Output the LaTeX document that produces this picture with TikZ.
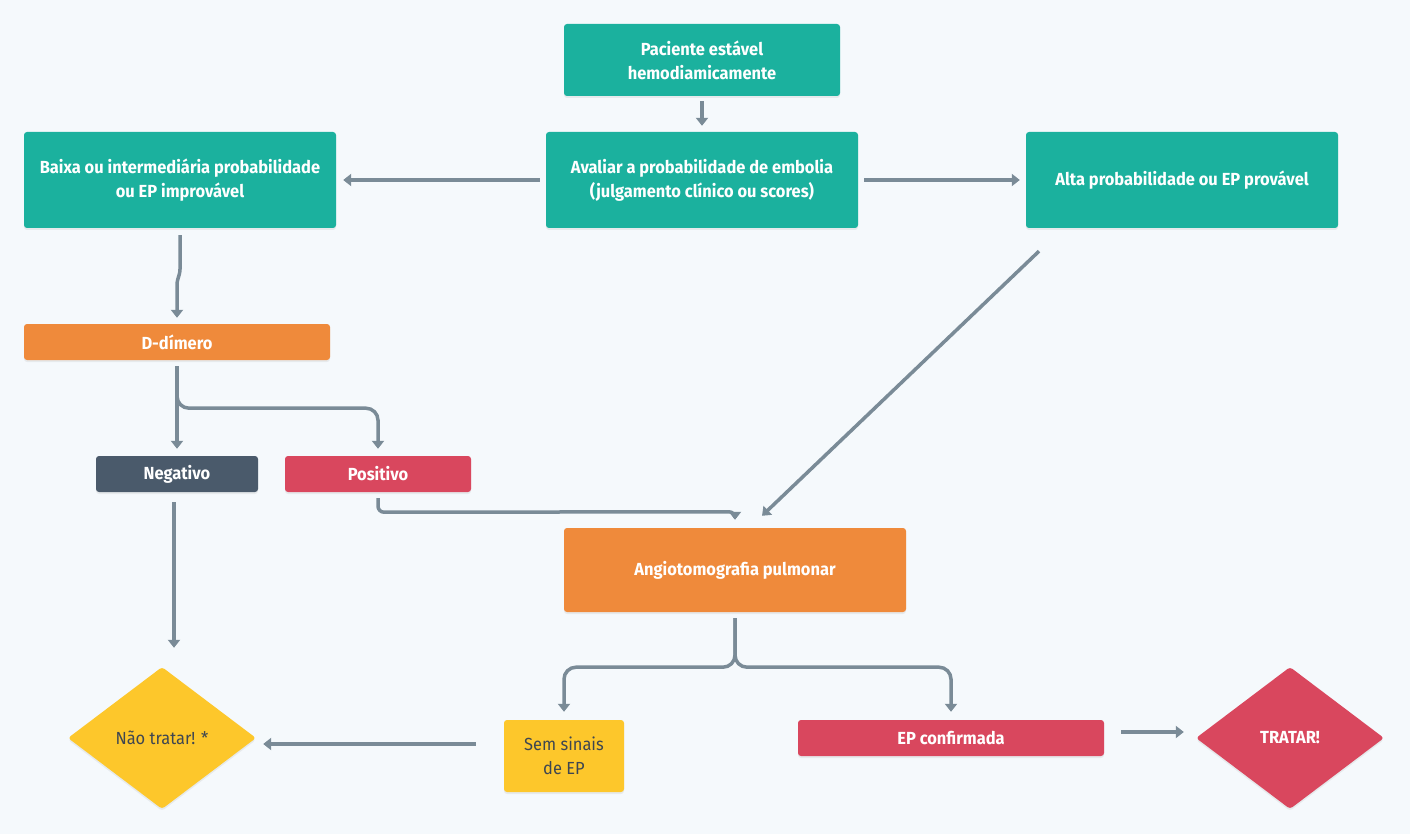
\documentclass[tikz,border=0pt]{standalone}
\usepackage{fontspec}
\setmainfont{Fira Sans}[FakeStretch=0.94]
\usetikzlibrary{calc,shapes.geometric,arrows.meta,shadows}
\definecolor{fundo}{HTML}{F5F9FC}
\definecolor{verde}{HTML}{1BB19E}
\definecolor{laranja}{HTML}{EF8A3B}
\definecolor{vermelho}{HTML}{D9475E}
\definecolor{ardosia}{HTML}{4A5A6B}
\definecolor{amarelo}{HTML}{FDC72B}
\definecolor{cinza}{HTML}{7A8B97}
\definecolor{escuro}{HTML}{3E4651}
\tikzset{
  caixa/.style={rectangle, rounded corners=3pt, inner sep=0pt, align=center,
    text=white, font=\bfseries\fontsize{17.5}{24}\selectfont,
    drop shadow={opacity=0.12, shadow xshift=0pt, shadow yshift=-2pt}},
  losango/.style={diamond, rounded corners=3pt, inner sep=0pt,
    minimum width=188pt, minimum height=142pt,
    drop shadow={opacity=0.12, shadow xshift=0pt, shadow yshift=-2pt}},
  liga/.style={draw=cinza, line width=3.5pt, rounded corners=12pt,
    -{Triangle[length=8pt,width=12pt]}}
}

\begin{document}
\begin{tikzpicture}[x=1pt, y=-1pt]
        \fill[fundo] (0,0) rectangle (1410,834);
        % top
        \node[caixa, fill=verde, minimum width=276pt, minimum height=72pt] (inicio) at (702,60) {Paciente estável\\hemodiamicamente};
        \node[caixa, fill=verde, minimum width=312pt, minimum height=96pt] (avaliar) at (702,180) {Avaliar a probabilidade de embolia\\(julgamento clínico ou scores)};
        \node[caixa, fill=verde, minimum width=312pt, minimum height=96pt] (baixa) at (180,180) {Baixa ou intermediária probabilidade\\ou EP improvável};
        \node[caixa, fill=verde, minimum width=312pt, minimum height=96pt] (alta) at (1182,180) {Alta probabilidade ou EP provável};
        % d-dimer
        \node[caixa, fill=laranja, minimum width=306pt, minimum height=36pt] (ddimero) at (177,342) {D-dímero};
        \node[caixa, fill=ardosia, minimum width=162pt, minimum height=36pt] (negativo) at (177,474) {Negativo};
        \node[caixa, fill=vermelho, minimum width=186pt, minimum height=36pt] (positivo) at (378,474) {Positivo};
        % angio
        \node[caixa, fill=laranja, minimum width=342pt, minimum height=84pt] (angio) at (735,570) {Angiotomografia pulmonar};
        \node[caixa, fill=amarelo, text=escuro, font=\fontsize{17.5}{24}\selectfont, minimum width=120pt, minimum height=72pt] (semsinais) at (564,756) {Sem sinais\\de EP};
        \node[caixa, fill=vermelho, minimum width=306pt, minimum height=36pt] (confirmada) at (951,738) {EP confirmada};
        % end
        \node[losango, fill=amarelo, text=escuro, font=\fontsize{17.5}{24}\selectfont] (naotratar) at (162,738) {Não tratar! *};
        \node[losango, fill=vermelho, text=white, font=\bfseries\fontsize{17.5}{24}\selectfont] (tratar) at (1290,738) {TRATAR!};
        % arrows
        \draw[liga] ($(inicio.south)+(0,5)$) -- ($(avaliar.north)+(0,-6)$);
        \draw[liga] ($(avaliar.west)+(-6,0)$) -- ($(baixa.east)+(7,0)$);
        \draw[liga] ($(avaliar.east)+(6,0)$) -- ($(alta.west)+(-6,0)$);
        \draw[liga, rounded corners=3pt] ($(baixa.south)+(0,7)$) -- ($(baixa.south)+(0,44)$) -- ($(ddimero.north)+(0,-42)$) -- ($(ddimero.north)+(0,-6)$);
        \draw[liga] ($(ddimero.south)+(0,6)$) -- ($(negativo.north)+(0,-7)$);
        \draw[liga] ($(ddimero.south)+(0,6)$) -- ($(ddimero.south)+(0,48)$) -| ($(positivo.north)+(0,-7)$);
        \draw[liga, rounded corners=6pt] ($(positivo.south)+(0,6)$) -- ($(positivo.south)+(0,20)$) -- ($(angio.north)+(0,-16)$) -- ($(angio.north)+(0,-8)$);
        \draw[liga] ($(alta.south)+(-143,23)$) -- ($(angio.north)+(27,-12)$);
        \draw[liga] ($(negativo.south)+(-3,10)$) -- ($(naotratar.north)+(12,-19)$);
        \draw[liga] ($(angio.south)+(0,6)$) -- ($(angio.south)+(0,55)$) -| ($(semsinais.north)+(0,-8)$);
        \draw[liga] ($(angio.south)+(0,6)$) -- ($(angio.south)+(0,55)$) -| ($(confirmada.north)+(0,-8)$);
        \draw[liga] ($(semsinais.west)+(-28,-12)$) -- ($(naotratar.east)+(7,6)$);
        \draw[liga] ($(confirmada.east)+(17,-6)$) -- ($(tratar.west)+(-12,-6)$);
\end{tikzpicture}
\end{document}
